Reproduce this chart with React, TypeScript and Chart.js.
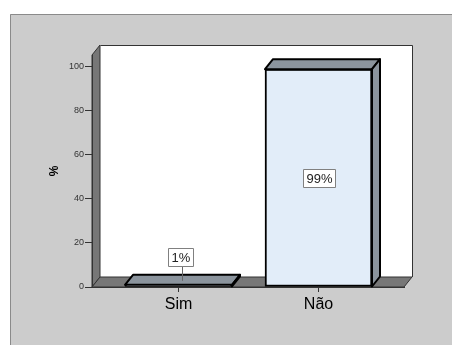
import { useEffect, useRef } from 'react';
import { Chart, registerables } from 'chart.js';

Chart.register(...registerables);

const categories = ['Sim', 'Não'];
const percentValues = [1, 99];
const percentLabels = ['1%', '99%'];
const yTickValues = [0, 20, 40, 60, 80, 100];

const FONT = "'Liberation Sans', Arial, sans-serif";
const DX = 8;
const DY = -10;

export default function App() {
  const ref = useRef<HTMLCanvasElement>(null);

  useEffect(() => {
    document.body.style.margin = '0';
    const canvas = ref.current!;

    const plugin = {
      id: 'spss3d',
      beforeDraw(chart: any) {
        const ctx = chart.ctx;
        const { left, right, top, bottom } = chart.chartArea;
        const W = chart.width;
        const H = chart.height;
        ctx.save();
        ctx.fillStyle = '#ffffff';
        ctx.fillRect(0, 0, W, H);
        ctx.fillStyle = '#cccccc';
        ctx.fillRect(10, 14, W - 10, H - 14);
        ctx.strokeStyle = '#8a8a8a';
        ctx.lineWidth = 1;
        ctx.beginPath();
        ctx.moveTo(10.5, H);
        ctx.lineTo(10.5, 14.5);
        ctx.lineTo(W, 14.5);
        ctx.stroke();

        // back wall
        ctx.fillStyle = '#ffffff';
        ctx.fillRect(left + DX, top + DY, right - left, bottom - top);
        ctx.strokeStyle = '#333333';
        ctx.beginPath();
        ctx.moveTo(left + DX + 0.5, top + DY + 0.5);
        ctx.lineTo(right + DX + 0.5, top + DY + 0.5);
        ctx.lineTo(right + DX + 0.5, bottom + DY);
        ctx.stroke();

        // left wall
        ctx.fillStyle = '#777777';
        ctx.beginPath();
        ctx.moveTo(left, top);
        ctx.lineTo(left + DX, top + DY);
        ctx.lineTo(left + DX, bottom + DY);
        ctx.lineTo(left, bottom);
        ctx.closePath();
        ctx.fill();
        ctx.stroke();

        // floor
        ctx.beginPath();
        ctx.moveTo(left, bottom);
        ctx.lineTo(left + DX, bottom + DY);
        ctx.lineTo(right + DX, bottom + DY);
        ctx.lineTo(right, bottom);
        ctx.closePath();
        ctx.fill();
        ctx.stroke();
        ctx.restore();
      },
      afterDatasetsDraw(chart: any) {
        const ctx = chart.ctx;
        const meta = chart.getDatasetMeta(0);
        ctx.save();
        meta.data.forEach((bar: any, i: number) => {
          const w = bar.width;
          const l = bar.x - w / 2;
          const r = bar.x + w / 2;
          const t = bar.y;
          const b = bar.base;
          ctx.fillStyle = '#8b949d';
          ctx.strokeStyle = '#000000';
          ctx.lineWidth = 2;
          ctx.lineJoin = 'round';
          // top face
          ctx.beginPath();
          ctx.moveTo(l, t);
          ctx.lineTo(l + DX, t + DY);
          ctx.lineTo(r + DX, t + DY);
          ctx.lineTo(r, t);
          ctx.closePath();
          ctx.fill();
          ctx.stroke();
          // side face
          ctx.beginPath();
          ctx.moveTo(r, t);
          ctx.lineTo(r + DX, t + DY);
          ctx.lineTo(r + DX, b + DY);
          ctx.lineTo(r, b);
          ctx.closePath();
          ctx.fill();
          ctx.stroke();

          // label
          const text = percentLabels[i];
          ctx.font = `13px ${FONT}`;
          const tw = ctx.measureText(text).width;
          const bw = Math.round(tw + 6);
          const bh = 18;
          let cx: number, cy: number;
          const small = Math.abs(b - t) < 30;
          if (small) {
            cx = bar.x + 2;
            cy = t + DY / 2 - 23;
          } else {
            cx = bar.x;
            cy = (t + b) / 2;
          }
          const bx = Math.round(cx - bw / 2) + 0.5;
          const by = Math.round(cy - bh / 2) + 0.5;
          if (small) {
            ctx.strokeStyle = '#666666';
            ctx.lineWidth = 1;
            ctx.beginPath();
            ctx.moveTo(Math.round(bar.x + 3.5) + 0.5, by + bh);
            ctx.lineTo(Math.round(bar.x + 3.5) + 0.5, t + DY / 2 + 1);
            ctx.stroke();
          }
          ctx.fillStyle = '#ffffff';
          ctx.fillRect(bx, by, bw, bh);
          ctx.strokeStyle = '#808080';
          ctx.lineWidth = 1;
          ctx.strokeRect(bx, by, bw, bh);
          ctx.fillStyle = '#222222';
          ctx.textAlign = 'center';
          ctx.textBaseline = 'middle';
          ctx.fillText(text, bx + bw / 2, by + bh / 2 + 1);
        });
        ctx.restore();
      },
    };

    const chart = new Chart(canvas, {
      type: 'bar',
      data: {
        datasets: [
          {
            data: categories.map((c, i) => ({ x: i, y: percentValues[i] })) as any,
            backgroundColor: '#e2edf9',
            borderColor: '#000000',
            borderWidth: 2,
            barThickness: 107,
            borderSkipped: false,
          },
        ],
      },
      options: {
        animation: false,
        responsive: false,
        maintainAspectRatio: false,
        layout: { padding: { top: 55, right: 48, left: 0, bottom: 0 } },
        plugins: { legend: { display: false }, tooltip: { enabled: false } },
        scales: {
          x: {
            type: 'linear',
            min: -0.6179,
            max: 1.6107,
            offset: false,
            afterBuildTicks: (s: any) => {
              s.ticks = categories.map((_, i) => ({ value: i }));
            },
            afterFit: (s: any) => {
              s.height = 58;
            },
            ticks: {
              callback: (v: any) => categories[v as number] ?? '',
              font: { family: FONT, size: 16 },
              color: '#000000',
              padding: 3,
              autoSkip: false,
              maxRotation: 0,
            },
            grid: { drawOnChartArea: false, tickLength: 5, color: '#333333', offset: false },
            border: { color: '#333333' },
          },
          y: {
            min: 0,
            max: 105.45,
            afterBuildTicks: (s: any) => {
              s.ticks = yTickValues.map((v) => ({ value: v }));
            },
            afterFit: (s: any) => {
              s.width = 92;
            },
            ticks: {
              font: { family: FONT, size: 9 },
              color: '#333333',
              padding: 1,
            },
            grid: { drawOnChartArea: false, tickLength: 7, color: '#333333' },
            border: { color: '#333333' },
            title: {
              display: true,
              text: '%',
              font: { family: FONT, size: 12, weight: 'bold' },
              color: '#000000',
              padding: { top: 47, bottom: 0 },
            },
          },
        },
      } as any,
      plugins: [plugin],
    });

    return () => chart.destroy();
  }, []);

  return (
    <div style={{ width: 452, height: 345 }}>
      <canvas ref={ref} width={452} height={345} style={{ width: 452, height: 345, display: 'block' }} />
    </div>
  );
}
